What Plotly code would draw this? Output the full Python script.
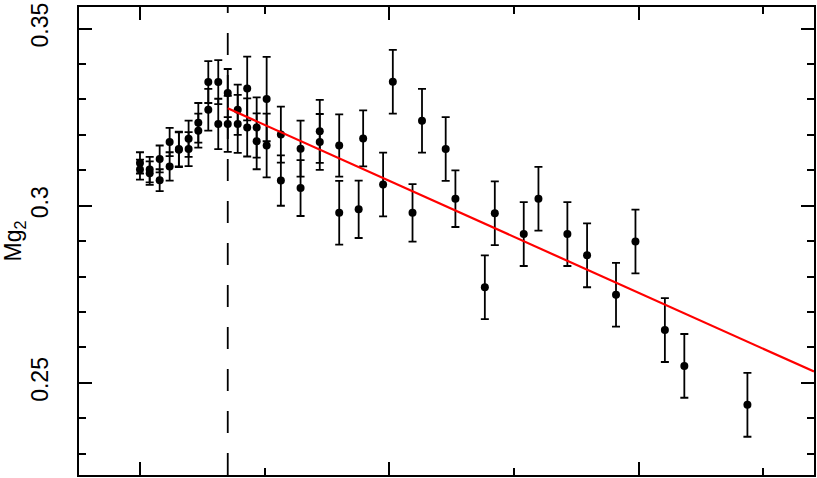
import plotly.graph_objects as go

# radial position (arbitrary units: major x ticks every 10), Mg2 index and 1-sigma errors
r = [0.00, 0.00, 0.39, 0.39, 0.79, 0.79, 1.19, 1.19, 1.56, 1.56,
     1.95, 1.95, 2.34, 2.34, 2.74, 2.74, 3.14, 3.14, 3.52, 3.52,
     3.92, 3.92, 4.30, 4.30, 4.68, 4.68, 5.08, 5.08, 5.65, 5.65,
     6.44, 6.44, 7.21, 7.21, 7.99, 7.99, 8.77, 8.95, 9.75, 10.14,
     10.93, 11.31, 12.26, 12.65, 13.83, 14.23, 15.39, 15.98, 17.14, 17.93,
     19.09, 19.87, 21.05, 21.83, 24.36]
mg2 = [0.3121, 0.3102, 0.3102, 0.3092, 0.3132, 0.3072, 0.3180, 0.3111, 0.3160, 0.3158,
       0.3189, 0.3160, 0.3234, 0.3212, 0.3349, 0.3271, 0.3349, 0.3231, 0.3318, 0.3231,
       0.3271, 0.3231, 0.3331, 0.3221, 0.3221, 0.3182, 0.3301, 0.3170, 0.3201, 0.3071,
       0.3161, 0.3050, 0.3210, 0.3180, 0.3170, 0.2980, 0.2990, 0.3190, 0.3060, 0.3350,
       0.2980, 0.3240, 0.3160, 0.3020, 0.2770, 0.2979, 0.2920, 0.3020, 0.2920, 0.2860,
       0.2749, 0.2899, 0.2649, 0.2548, 0.2438]
mg2_err = [0.0030, 0.0028, 0.0036, 0.0033, 0.0038, 0.0031, 0.0040, 0.0040, 0.0049, 0.0049,
           0.0051, 0.0048, 0.0056, 0.0048, 0.0059, 0.0059, 0.0062, 0.0071, 0.0068, 0.0079,
           0.0071, 0.0082, 0.0090, 0.0082, 0.0085, 0.0079, 0.0119, 0.0090, 0.0079, 0.0071,
           0.0079, 0.0079, 0.0089, 0.0079, 0.0088, 0.0090, 0.0081, 0.0079, 0.0090, 0.0090,
           0.0081, 0.0090, 0.0090, 0.0080, 0.0090, 0.0090, 0.0090, 0.0090, 0.0090, 0.0090,
           0.0090, 0.0090, 0.0090, 0.0090, 0.0090]

# linear fit beyond the break radius
r_break = 3.52
fit_r = [3.52, 27.03]
fit_mg2 = [0.3275, 0.2532]

x_range = [-2.445, 27.03]
y_range = [0.2240, 0.3561]

fig = go.Figure()

fig.add_trace(go.Scatter(
    x=r, y=mg2, mode='markers',
    marker=dict(color='black', size=8),
    error_y=dict(type='data', array=mg2_err, color='black', thickness=1.8, width=4),
    showlegend=False))

fig.add_trace(go.Scatter(
    x=fit_r, y=fit_mg2, mode='lines',
    line=dict(color='red', width=2.2),
    showlegend=False))

fig.add_vline(x=r_break, line=dict(color='black', width=1.8, dash='22px,20px'))

fig.update_xaxes(
    range=x_range, automargin=False,
    showgrid=False, zeroline=False,
    showline=True, linewidth=2, linecolor='black', mirror='ticks',
    ticks='inside', ticklen=13, tickwidth=2, tickcolor='black',
    tick0=0, dtick=10,
    minor=dict(ticks='inside', ticklen=7, tickwidth=2, tickcolor='black', dtick=5, tick0=0),
    showticklabels=False
)
fig.update_yaxes(
    range=y_range, automargin=False,
    showgrid=False, zeroline=False,
    showline=True, linewidth=2, linecolor='black', mirror='ticks',
    ticks='inside', ticklen=13, tickwidth=2, tickcolor='black',
    minor=dict(ticks='inside', ticklen=7, tickwidth=2, tickcolor='black', dtick=0.01),
    tickangle=-90,
    tickfont=dict(family='Liberation Sans, Arial, sans-serif', size=23, color='black'),
    tickvals=[0.25, 0.3, 0.35], ticktext=['0.25', '0.3', '0.35'],
    ticklabelstandoff=20,
    title=dict(text='Mg<sub>2</sub>', standoff=4,
               font=dict(family='Liberation Sans, Arial, sans-serif', size=23, color='black'))
)

fig.update_layout(
    width=817, height=478,
    margin=dict(l=79, r=3, t=7, b=3),
    plot_bgcolor='white',
    paper_bgcolor='white'
)

# drop the default page margin so the figure sits at the window origin
fig.write_html("out.html",
               config={'displayModeBar': False},
               post_script="document.body.style.margin='0';document.body.style.overflow='hidden';")
